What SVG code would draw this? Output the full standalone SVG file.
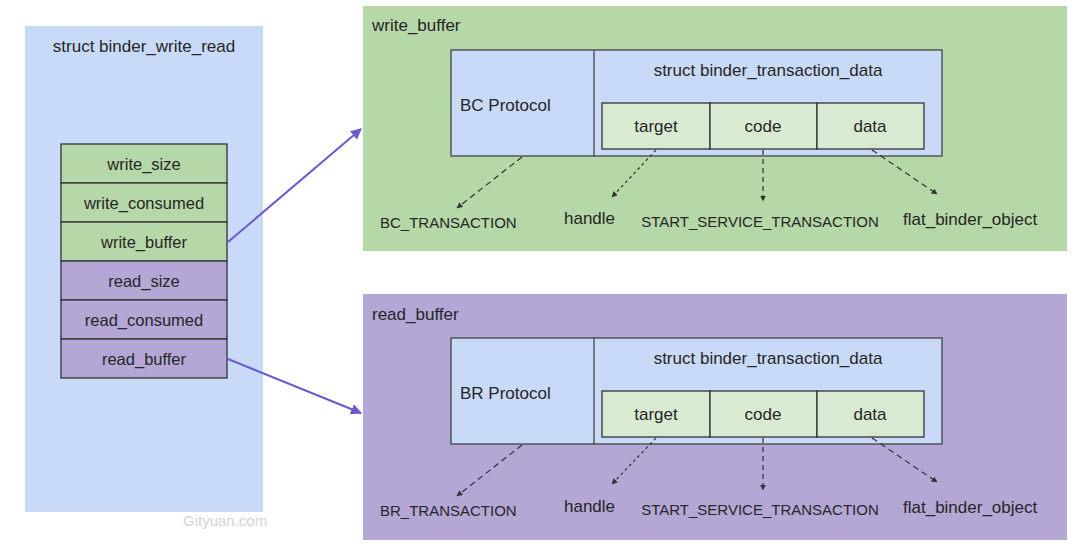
<svg xmlns="http://www.w3.org/2000/svg" width="1080" height="559" viewBox="0 0 1080 559">
<style>
text{font-family:"Liberation Sans",Arial,sans-serif;fill:#262626;}
.t17{font-size:17px;}
.t16{font-size:16.5px;}
.t15{font-size:15px;}
.mid{text-anchor:middle;}
.panelL{fill:#c9daf8;}
.panelG{fill:#b6d7a8;}
.panelP{fill:#b4a7d6;}
.fieldG{fill:#b6d7a8;stroke:#333;stroke-width:1.3;}
.fieldP{fill:#b4a7d6;stroke:#333;stroke-width:1.3;}
.inner{fill:#c9daf8;stroke:#444;stroke-width:1.3;}
.cell{fill:#d9ead3;stroke:#333;stroke-width:1.3;}
.dash{stroke:#333;stroke-width:1.2;fill:none;marker-end:url(#ah);}
.solid{stroke:#6a5acd;stroke-width:2;fill:none;marker-end:url(#ahp);}
</style>
<defs>
<marker id="ah" viewBox="0 0 10 10" refX="9" refY="5" markerWidth="6" markerHeight="6" markerUnits="userSpaceOnUse" orient="auto">
<path d="M0,0 L10,5 L0,10 z" fill="#333"/>
</marker>
<marker id="ahp" viewBox="0 0 10 10" refX="9" refY="5" markerWidth="11" markerHeight="11" markerUnits="userSpaceOnUse" orient="auto">
<path d="M0,0 L10,5 L0,10 z" fill="#6a5acd"/>
</marker>
</defs>
<rect width="1080" height="559" fill="#ffffff"/>

<g id="binder_write_read">
<rect class="panelL" x="25" y="26" width="238" height="486"/>
<text class="t17 mid" x="144" y="52">struct binder_write_read</text>
<rect class="fieldG" x="61" y="144" width="166" height="39"/>
<text class="t16 mid" x="144" y="169.5">write_size</text>
<rect class="fieldG" x="61" y="183" width="166" height="39"/>
<text class="t16 mid" x="144" y="208.5">write_consumed</text>
<rect class="fieldG" x="61" y="222" width="166" height="39"/>
<text class="t16 mid" x="144" y="247.5">write_buffer</text>
<rect class="fieldP" x="61" y="261" width="166" height="39"/>
<text class="t16 mid" x="144" y="286.5">read_size</text>
<rect class="fieldP" x="61" y="300" width="166" height="39"/>
<text class="t16 mid" x="144" y="325.5">read_consumed</text>
<rect class="fieldP" x="61" y="339" width="166" height="39"/>
<text class="t16 mid" x="144" y="364.5">read_buffer</text>
</g>

<g id="write_buffer">
<rect class="panelG" x="363" y="6" width="704" height="245"/>
<text class="t17" x="372" y="31">write_buffer</text>
<rect class="inner" x="451" y="50" width="491" height="106"/>
<line x1="594" y1="50" x2="594" y2="156" stroke="#444" stroke-width="1.3"/>
<text class="t17" x="460" y="111">BC Protocol</text>
<text class="t17 mid" x="768" y="76">struct binder_transaction_data</text>
<rect class="cell" x="602" y="103" width="108" height="46"/>
<rect class="cell" x="710" y="103" width="107" height="46"/>
<rect class="cell" x="817" y="103" width="107" height="46"/>
<text class="t17 mid" x="656" y="132">target</text>
<text class="t17 mid" x="763" y="132">code</text>
<text class="t17 mid" x="870" y="132">data</text>
<text class="t15" x="380" y="227.5">BC_TRANSACTION</text>
<text class="t17" x="564" y="224">handle</text>
<text class="t15 mid" x="760" y="226.5">START_SERVICE_TRANSACTION</text>
<text class="t17" x="903" y="225">flat_binder_object</text>
</g>

<g id="read_buffer">
<rect class="panelP" x="363" y="294" width="704" height="246"/>
<text class="t17" x="372" y="320">read_buffer</text>
<rect class="inner" x="451" y="338" width="491" height="106"/>
<line x1="594" y1="338" x2="594" y2="444" stroke="#444" stroke-width="1.3"/>
<text class="t17" x="460" y="399">BR Protocol</text>
<text class="t17 mid" x="768" y="364">struct binder_transaction_data</text>
<rect class="cell" x="602" y="391" width="108" height="46"/>
<rect class="cell" x="710" y="391" width="107" height="46"/>
<rect class="cell" x="817" y="391" width="107" height="46"/>
<text class="t17 mid" x="656" y="420">target</text>
<text class="t17 mid" x="763" y="420">code</text>
<text class="t17 mid" x="870" y="420">data</text>
<text class="t15" x="380" y="515.5">BR_TRANSACTION</text>
<text class="t17" x="564" y="512">handle</text>
<text class="t15 mid" x="760" y="514.5">START_SERVICE_TRANSACTION</text>
<text class="t17" x="903" y="513">flat_binder_object</text>
</g>

<g id="connectors">
<line class="solid" x1="228" y1="242" x2="361" y2="129"/>
<line class="solid" x1="228" y1="359" x2="361" y2="413"/>
<line class="dash" stroke-dasharray="6,4" x1="522" y1="157" x2="457" y2="208"/>
<line class="dash" stroke-dasharray="3,3" x1="656" y1="150" x2="612" y2="197"/>
<line class="dash" stroke-dasharray="5,4" x1="763" y1="150" x2="763" y2="201"/>
<line class="dash" stroke-dasharray="6,4" x1="872" y1="150" x2="937" y2="194"/>
<line class="dash" stroke-dasharray="6,4" x1="522" y1="445" x2="457" y2="496"/>
<line class="dash" stroke-dasharray="3,3" x1="656" y1="438" x2="612" y2="484"/>
<line class="dash" stroke-dasharray="5,4" x1="763" y1="438" x2="763" y2="490"/>
<line class="dash" stroke-dasharray="6,4" x1="872" y1="438" x2="937" y2="482"/>
</g>

<text x="183" y="526" style="font-size:15px;fill:#d4d4d4;">Gityuan.com</text>
</svg>
